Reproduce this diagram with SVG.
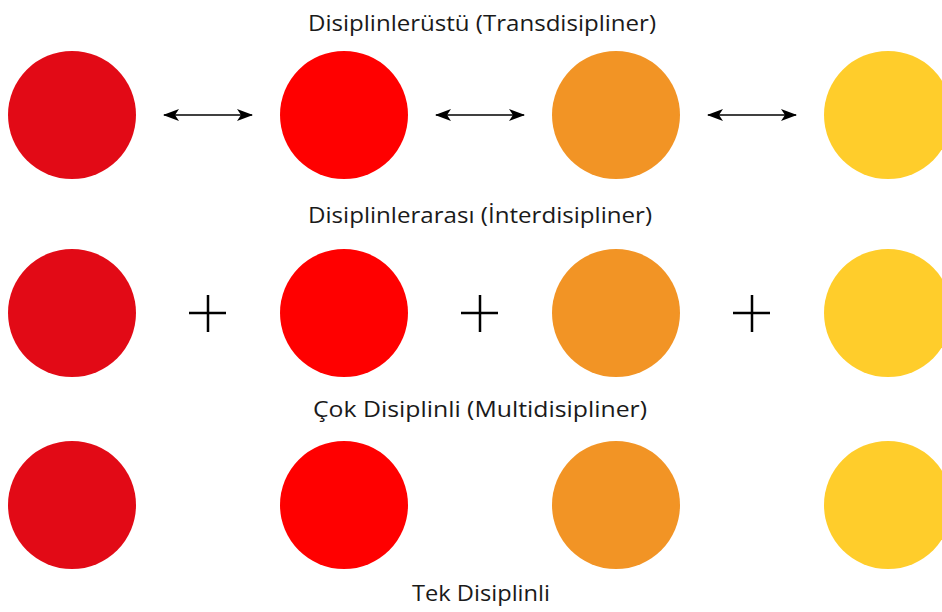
<svg xmlns="http://www.w3.org/2000/svg" width="942" height="612" viewBox="0 0 942 612">
<defs>
<style>
.lbl{font-family:"Open Sans","Liberation Sans",sans-serif;font-size:22px;fill:#1a1a1a}
.c1{fill:#e20a16}.c2{fill:#ff0000}.c3{fill:#f29425}.c4{fill:#ffcd2b}
.arr{stroke:#000;stroke-width:1.6;fill:none;marker-start:url(#ah);marker-end:url(#ah)}
.plus{stroke:#000;stroke-width:2.5;fill:none}
</style>
<marker id="ah" viewBox="0 0 16 12" refX="15" refY="6" markerWidth="16" markerHeight="12" markerUnits="userSpaceOnUse" orient="auto-start-reverse">
<path d="M0,0 L16,6 L0,12 L4,6 Z" fill="#000"/>
</marker>
</defs>
<rect width="942" height="612" fill="#fff"/>
<g id="labels">
<text class="lbl" x="308" y="31" textLength="348" lengthAdjust="spacingAndGlyphs">Disiplinlerüstü (Transdisipliner)</text>
<text class="lbl" x="308" y="223" textLength="344" lengthAdjust="spacingAndGlyphs">Disiplinlerarası (İnterdisipliner)</text>
<text class="lbl" x="313" y="417" textLength="334" lengthAdjust="spacingAndGlyphs">Çok Disiplinli (Multidisipliner)</text>
<text class="lbl" x="412" y="601" textLength="138" lengthAdjust="spacingAndGlyphs">Tek Disiplinli</text>
</g>
<g id="row1">
<g id="t1"><circle class="c1" cx="72" cy="115" r="64"/></g>
<g id="t2"><circle class="c2" cx="344" cy="115" r="64"/></g>
<g id="t3"><circle class="c3" cx="616" cy="115" r="64"/></g>
<g id="t4"><circle class="c4" cx="888" cy="115" r="64"/></g>
</g>
<g id="row2">
<g id="i1"><circle class="c1" cx="72" cy="313" r="64"/></g>
<g id="i2"><circle class="c2" cx="344" cy="313" r="64"/></g>
<g id="i3"><circle class="c3" cx="616" cy="313" r="64"/></g>
<g id="i4"><circle class="c4" cx="888" cy="313" r="64"/></g>
</g>
<g id="row3">
<g id="m1"><circle class="c1" cx="72" cy="505" r="64"/></g>
<g id="m2"><circle class="c2" cx="344" cy="505" r="64"/></g>
<g id="m3"><circle class="c3" cx="616" cy="505" r="64"/></g>
<g id="m4"><circle class="c4" cx="888" cy="505" r="64"/></g>
</g>
<g id="connectors">
<line class="arr" x1="164" y1="115" x2="252" y2="115"/>
<line class="arr" x1="436" y1="115" x2="524" y2="115"/>
<line class="arr" x1="708" y1="115" x2="796" y2="115"/>
<path class="plus" d="M189,313 H226 M208,295 V332"/>
<path class="plus" d="M461,313 H498 M480,295 V332"/>
<path class="plus" d="M733,313 H770 M752,295 V332"/>
</g>
</svg>
